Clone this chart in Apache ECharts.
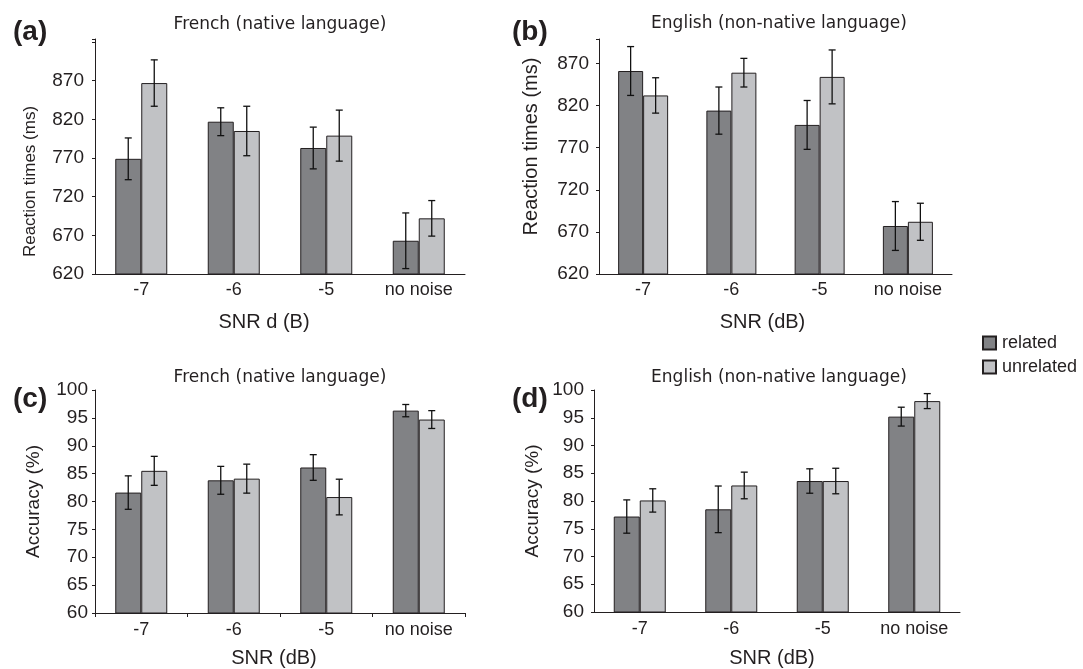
<!DOCTYPE html>
<html>
<head>
<meta charset="utf-8">
<script src="https://cdn.jsdelivr.net/npm/echarts@6/dist/echarts.min.js"></script>
<style>
  html, body { margin: 0; padding: 0; background: #fff; }
  #chart { width: 1083px; height: 669px; }
</style>
</head>
<body>
<div id="chart"></div>
<script>
// categories (SNR)
const categories = ['-7', '-6', '-5', 'no noise'];

// (a) reaction times, French
const rtFrenchRelated = [769, 817, 783, 663];
const rtFrenchRelatedSE = [27, 18, 27, 36];
const rtFrenchUnrelated = [867, 805, 799, 692];
const rtFrenchUnrelatedSE = [30, 32, 33, 23];

// (b) reaction times, English
const rtEnglishRelated = [861, 814, 797, 677];
const rtEnglishRelatedSE = [29, 28, 29, 29];
const rtEnglishUnrelated = [832, 859, 854, 682];
const rtEnglishUnrelatedSE = [21, 17, 32, 22];

// (c) accuracy, French
const accFrenchRelated = [81.6, 83.8, 86.1, 96.3];
const accFrenchRelatedSE = [3.0, 2.5, 2.3, 1.1];
const accFrenchUnrelated = [85.5, 84.1, 80.8, 94.7];
const accFrenchUnrelatedSE = [2.6, 2.6, 3.2, 1.6];

// (d) accuracy, English
const accEnglishRelated = [77.2, 78.5, 83.6, 95.2];
const accEnglishRelatedSE = [3.0, 4.2, 2.2, 1.7];
const accEnglishUnrelated = [80.1, 82.8, 83.6, 98.0];
const accEnglishUnrelatedSE = [2.1, 2.4, 2.3, 1.35];

const FONT = 'Liberation Sans';
const TITLE_FONT = 'DejaVu Sans';
const INK = '#231f20';
const RELATED = '#818285';
const UNRELATED = '#c1c2c5';

function barSeries (name, idx, values, color, barW) {
  return {
    name: name,
    type: 'bar',
    xAxisIndex: idx,
    yAxisIndex: idx,
    data: values,
    barWidth: barW,
    barGap: '0%',
    itemStyle: { color: color, borderColor: INK, borderWidth: 1 }
  }
}

// error bars on top of the bars, side -1 = left bar, 1 = right bar
function errorSeries (idx, values, se, side, barW) {
  let data = values.map(function (v, i) { return [i, v, se[i]] })
  return {
    type: 'custom',
    xAxisIndex: idx,
    yAxisIndex: idx,
    z: 10,
    encode: { x: 0, y: 1 },
    data: data,
    renderItem: function (params, api) {
      let i = api.value(0)
      let m = api.value(1)
      let e = api.value(2)
      let top = api.coord([i, m + e])
      let bot = api.coord([i, m - e])
      let x = top[0] + side * barW / 2
      let cap = 3.5
      let style = { stroke: '#111', lineWidth: 1.3 }
      return {
        type: 'group',
        children: [
          { type: 'line', shape: { x1: x, y1: top[1], x2: x, y2: bot[1] }, style: style },
          { type: 'line', shape: { x1: x - cap, y1: top[1], x2: x + cap, y2: top[1] }, style: style },
          { type: 'line', shape: { x1: x - cap, y1: bot[1], x2: x + cap, y2: bot[1] }, style: style }
        ]
      }
    }
  }
}

// shift: how far the name sits left of the axis centre (px)
function xAxis (idx, name, showTicks, gap, shift, labelMargin) {
  return {
    type: 'category',
    gridIndex: idx,
    data: categories,
    name: name,
    nameLocation: 'middle',
    nameGap: gap,
    nameTextStyle: { fontFamily: FONT, fontSize: 20, color: INK, padding: [0, shift * 2, 0, 0] },
    axisLine: { lineStyle: { color: INK, width: 1 } },
    axisTick: { show: showTicks, length: 4, lineStyle: { color: INK } },
    axisLabel: { interval: 0, fontFamily: FONT, fontSize: 18, color: INK, margin: labelMargin }
  }
}

// down: how far the name sits below the axis centre (px)
function yAxis (idx, name, min, max, interval, maxLabel, nameGap, nameSize, down, labelMargin) {
  let pad = down >= 0 ? [0, down * 2, 0, 0] : [0, 0, 0, -down * 2]
  return {
    type: 'value',
    gridIndex: idx,
    min: min,
    max: max,
    interval: interval,
    name: name,
    nameLocation: 'middle',
    nameGap: nameGap,
    nameTextStyle: { fontFamily: FONT, fontSize: nameSize, color: INK, padding: pad },
    splitLine: { show: false },
    axisLine: { show: true, lineStyle: { color: INK, width: 1 } },
    axisTick: { show: true, length: 3, lineStyle: { color: INK } },
    axisLabel: {
      fontFamily: FONT, fontSize: 19, color: INK, margin: labelMargin,
      formatter: function (v) { return v > maxLabel ? '' : String(v) }
    }
  }
}

function panelTitle (text, x, y) {
  return {
    text: text, left: x, top: y, textAlign: 'center',
    textStyle: { fontFamily: TITLE_FONT, fontSize: 17, fontWeight: 'normal', color: INK }
  }
}

function panelLetter (text, x, y) {
  return {
    text: text, left: x, top: y,
    textStyle: { fontFamily: FONT, fontSize: 28, fontWeight: 'bold', color: INK }
  }
}

let chart = echarts.init(document.getElementById('chart'))
chart.setOption({
  animation: false,
  backgroundColor: '#fff',
  title: [
    panelTitle('French (native language)', 275, 11),
    panelTitle('English (non-native language)', 774, 10),
    panelTitle('French (native language)', 275, 364),
    panelTitle('English (non-native language)', 774, 364),
    panelLetter('(a)', 8, 13),
    panelLetter('(b)', 507, 13),
    panelLetter('(c)', 8, 380),
    panelLetter('(d)', 507, 380)
  ],
  legend: {
    orient: 'vertical',
    left: 982,
    top: 334,
    padding: 0,
    itemWidth: 13,
    itemHeight: 13,
    itemGap: 6,
    icon: 'rect',
    data: ['related', 'unrelated'],
    textStyle: { fontFamily: FONT, fontSize: 18, lineHeight: 18, color: INK, padding: [0, 0, 0, 1] }
  },
  grid: [
    { left: 95, top: 39, width: 370, height: 235 },
    { left: 599, top: 39, width: 353, height: 235 },
    { left: 95, top: 390, width: 370, height: 224 },
    { left: 594, top: 390, width: 366, height: 225 }
  ],
  xAxis: [
    xAxis(0, 'SNR d (B)', false, 38, 16, 7),
    xAxis(1, 'SNR (dB)', false, 38, 13, 7),
    xAxis(2, 'SNR (dB)', true, 35, 6, 8),
    xAxis(3, 'SNR (dB)', false, 36, 5, 8)
  ],
  yAxis: [
    yAxis(0, 'Reaction times (ms)', 620, 924, 50, 870, 56, 17, 25, 11),
    yAxis(1, 'Reaction times (ms)', 620, 899, 50, 870, 58, 20, -10, 10),
    yAxis(2, 'Accuracy (%)', 60, 100, 5, 100, 52, 19, 0, 7),
    yAxis(3, 'Accuracy (%)', 60, 100, 5, 100, 52, 19, 0, 10)
  ],
  series: [
    barSeries('related', 0, rtFrenchRelated, RELATED, 26),
    barSeries('unrelated', 0, rtFrenchUnrelated, UNRELATED, 26),
    errorSeries(0, rtFrenchRelated, rtFrenchRelatedSE, -1, 26),
    errorSeries(0, rtFrenchUnrelated, rtFrenchUnrelatedSE, 1, 26),

    barSeries('related', 1, rtEnglishRelated, RELATED, 25),
    barSeries('unrelated', 1, rtEnglishUnrelated, UNRELATED, 25),
    errorSeries(1, rtEnglishRelated, rtEnglishRelatedSE, -1, 25),
    errorSeries(1, rtEnglishUnrelated, rtEnglishUnrelatedSE, 1, 25),

    barSeries('related', 2, accFrenchRelated, RELATED, 26),
    barSeries('unrelated', 2, accFrenchUnrelated, UNRELATED, 26),
    errorSeries(2, accFrenchRelated, accFrenchRelatedSE, -1, 26),
    errorSeries(2, accFrenchUnrelated, accFrenchUnrelatedSE, 1, 26),

    barSeries('related', 3, accEnglishRelated, RELATED, 26),
    barSeries('unrelated', 3, accEnglishUnrelated, UNRELATED, 26),
    errorSeries(3, accEnglishRelated, accEnglishRelatedSE, -1, 26),
    errorSeries(3, accEnglishUnrelated, accEnglishUnrelatedSE, 1, 26)
  ]
})
</script>
</body>
</html>
